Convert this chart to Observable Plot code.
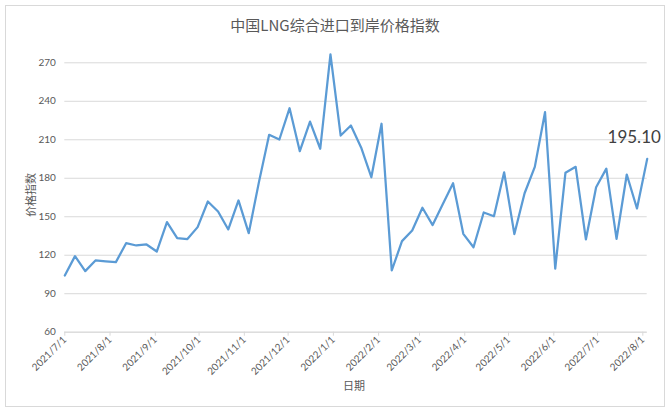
<!DOCTYPE html>
<html>
<head>
<meta charset="utf-8">
<script src="https://cdn.jsdelivr.net/npm/d3@7"></script>
<script src="https://cdn.jsdelivr.net/npm/@observablehq/plot@0.6"></script>
<style>
  html, body { margin: 0; padding: 0; background: #fff; }
  #wrap { position: relative; width: 670px; height: 412px; overflow: hidden; font-family: "Noto Sans CJK SC", sans-serif; }
  #frame { position: absolute; left: 5px; top: 5px; width: 658px; height: 400px; border: 1px solid #d9d9d9; }
  #title { position: absolute; left: 0; width: 670px; top: 14px; text-align: center; font-size: 15px; color: #595959; }
  #ylab { position: absolute; left: 30px; top: 195px; transform: translate(-50%, -50%) rotate(-90deg); font-size: 11px; color: #595959; white-space: nowrap; }
  #xlab { position: absolute; left: 354px; top: 385px; transform: translate(-50%, -50%); font-size: 11px; color: #595959; }
  #chart { position: absolute; left: 0; top: 0; }
</style>
</head>
<body>
<div id="wrap">
  <div id="frame"></div>
  <div id="chart"></div>
  <div id="title">中国LNG综合进口到岸价格指数</div>
  <div id="ylab">价格指数</div>
  <div id="xlab">日期</div>
</div>
<script>
const dates = [
  "2021-07-01","2021-07-08","2021-07-15","2021-07-22","2021-07-29",
  "2021-08-05","2021-08-12","2021-08-19","2021-08-26",
  "2021-09-02","2021-09-09","2021-09-16","2021-09-23","2021-09-30",
  "2021-10-07","2021-10-14","2021-10-21","2021-10-28",
  "2021-11-04","2021-11-11","2021-11-18","2021-11-25",
  "2021-12-02","2021-12-09","2021-12-16","2021-12-23","2021-12-30",
  "2022-01-06","2022-01-13","2022-01-20","2022-01-27",
  "2022-02-03","2022-02-10","2022-02-17","2022-02-24",
  "2022-03-03","2022-03-10","2022-03-17","2022-03-24","2022-03-31",
  "2022-04-07","2022-04-14","2022-04-21","2022-04-28",
  "2022-05-05","2022-05-12","2022-05-19","2022-05-26",
  "2022-06-02","2022-06-09","2022-06-16","2022-06-23","2022-06-30",
  "2022-07-07","2022-07-14","2022-07-21","2022-07-28",
  "2022-08-04"
];
const values = [
  104.2, 119.3, 107.6, 115.9, 115.2,
  114.6, 129.4, 127.6, 128.4,
  122.9, 145.8, 133.3, 132.6, 141.9,
  161.9, 154.1, 140.1, 162.7,
  137.2, 177.0, 213.9, 210.2,
  234.6, 201.1, 224.2, 203.0, 276.5,
  213.3, 221.1, 204.0, 180.8,
  222.5, 108.1, 131.0, 139.3,
  157.0, 143.5, 160.0, 176.1, 136.7,
  126.2, 153.3, 150.4, 184.6,
  136.5, 168.3, 188.9, 231.5,
  109.6, 184.3, 188.9, 132.3, 173.0,
  187.5, 132.8, 182.9, 156.4,
  195.10
];
const xTickLabels = ["2021/7/1","2021/8/1","2021/9/1","2021/10/1","2021/11/1","2021/12/1","2022/1/1","2022/2/1","2022/3/1","2022/4/1","2022/5/1","2022/6/1","2022/7/1","2022/8/1"];
const yTicks = [60, 90, 120, 150, 180, 210, 240, 270];
const lastLabel = "195.10";

const parse = d3.utcParse("%Y-%m-%d");
const parseTick = d3.utcParse("%Y/%m/%d");
const data = dates.map((d, i) => ({date: parse(d), value: values[i]}));
const tickDates = xTickLabels.map(s => parseTick(s));
const last = data[data.length - 1];

const chart = Plot.plot({
  width: 670,
  height: 412,
  marginLeft: 64.3,
  marginRight: 23.3,
  marginTop: 62.3,
  marginBottom: 80.3,
  style: {fontFamily: "Lato, 'Noto Sans CJK SC', sans-serif", background: "transparent"},
  x: {type: "utc", domain: [parse("2021-07-01"), parse("2022-08-04")]},
  y: {domain: [60, 270]},
  marks: [
    Plot.gridY(yTicks, {stroke: "#d9d9d9", strokeOpacity: 1}),
    Plot.ruleY([60], {stroke: "#d9d9d9"}),
    Plot.axisY(yTicks, {tickSize: 0, tickPadding: 9, fill: "#595959", fontSize: 10, label: null}),
    Plot.axisX(tickDates, {tickSize: 4, stroke: "#d9d9d9", fill: "#595959", fontSize: 10, tickRotate: -45, tickPadding: 2, tickFormat: (d, i) => xTickLabels[i], label: null}),
    Plot.line(data, {x: "date", y: "value", stroke: "#5b9bd5", strokeWidth: 2.25, strokeLinejoin: "round", clip: false}),
    Plot.text([last], {x: "date", y: "value", text: () => lastLabel, dx: -13, dy: -21, fontSize: 17, fill: "#404040", fontFamily: "Lato, sans-serif"})
  ]
});
document.getElementById("chart").appendChild(chart);
</script>
</body>
</html>
